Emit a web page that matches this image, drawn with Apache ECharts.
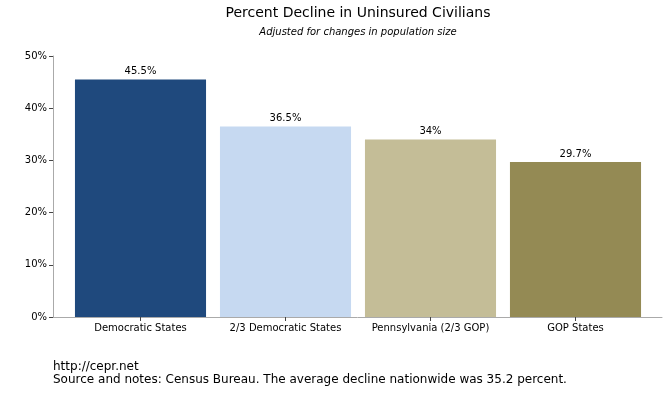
<!DOCTYPE html>
<html><head><meta charset="utf-8">
<script src="https://cdn.jsdelivr.net/npm/echarts@6/dist/echarts.min.js"></script>
<style>html,body{margin:0;padding:0;background:#fff}#c{width:670px;height:400px}</style>
</head><body><div id="c"></div>
<script>
var categories = ["Democratic States", "2/3 Democratic States", "Pennsylvania (2/3 GOP)", "GOP States"];
var values = [45.5, 36.5, 34, 29.7];
var colors = ["#1f497d", "#c6d9f1", "#c4bd97", "#948a54"];
var yTicks = [0, 10, 20, 30, 40, 50];

var chart = echarts.init(document.getElementById('c'), null, {renderer: 'canvas'});
var font = 'DejaVu Sans';
chart.setOption({
  animation: false,
  textStyle: {fontFamily: font},
  graphic: [
    {type: 'text', x: 358, y: 6, style: {text: 'Percent Decline in Uninsured Civilians', fontFamily: font, fontSize: 14, fill: '#000', textAlign: 'center', textVerticalAlign: 'top'}},
    {type: 'text', x: 358, y: 27, style: {text: 'Adjusted for changes in population size', fontFamily: font, fontSize: 10, fontStyle: 'italic', fill: '#000', textAlign: 'center', textVerticalAlign: 'top'}},
    {type: 'text', x: 53, y: 360, style: {text: 'http://cepr.net\nSource and notes: Census Bureau. The average decline nationwide was 35.2 percent.', fontFamily: font, fontSize: 12, lineHeight: 13, fill: '#000', textVerticalAlign: 'top'}}
  ],
  grid: [
    {left: 53, right: 8, top: 56, bottom: 83},
    {left: 68, right: 22, top: 56, bottom: 83}
  ],
  xAxis: [
    {type: 'value', gridIndex: 0, min: 0, max: 1, axisLine: {show: true, onZero: false, lineStyle: {color: '#aaa'}},
     axisTick: {show: false}, axisLabel: {show: false}, splitLine: {show: false}},
    {type: 'category', gridIndex: 1, data: categories,
     axisLine: {show: false},
     axisTick: {show: true, alignWithLabel: true, length: 4, lineStyle: {color: '#444'}},
     axisLabel: {color: '#000', fontSize: 10, margin: 6, interval: 0}}
  ],
  yAxis: [
    {type: 'value', gridIndex: 0, min: 0, max: 50, interval: 10,
     splitLine: {show: false},
     axisLine: {show: true, lineStyle: {color: '#aaa'}},
     axisTick: {show: true, length: 4, lineStyle: {color: '#444'}},
     axisLabel: {color: '#000', fontSize: 10, margin: 6, formatter: '{value}%'}},
    {type: 'value', gridIndex: 1, min: 0, max: 50, interval: 10, show: false, splitLine: {show: false}}
  ],
  series: [{
    type: 'bar', xAxisIndex: 1, yAxisIndex: 1, barCategoryGap: '9.6%',
    data: values.map(function(v, i){ return {value: v, itemStyle: {color: colors[i]}}; }),
    label: {show: true, position: 'top', color: '#000', fontSize: 10, distance: 3, formatter: '{c}%'}
  }]
});
</script></body></html>
